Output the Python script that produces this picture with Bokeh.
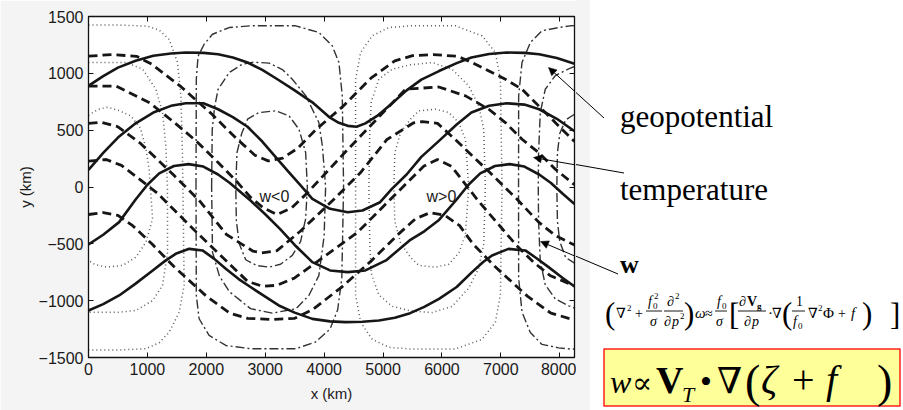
from bokeh.plotting import figure
from bokeh.layouts import row
from bokeh.models import (Range1d, LinearAxis, Label, Arrow, NormalHead, FixedTicker,
                          CustomJSTickFormatter, Div)
from bokeh.embed import file_html
from bokeh.resources import INLINE

# ---------------- data (km) ----------------
x_ticks = [0, 1000, 2000, 3000, 4000, 5000, 6000, 7000, 8000]
y_ticks = [-1500, -1000, -500, 0, 500, 1000, 1500]

# geopotential contours (solid)
G1_x = [0, 250, 500, 800, 1100, 1400, 1650, 1950, 2200, 2450, 2700, 2950, 3200, 3500, 3800, 4100, 4250, 4400, 4550, 4700, 4900, 5150, 5400, 5650, 5950, 6250, 6500, 6800, 7100, 7400, 7650, 7950, 8250]
G1_y = [890, 975, 1050, 1110, 1155, 1175, 1183, 1180, 1168, 1140, 1095, 1030, 950, 850, 745, 610, 565, 538, 530, 560, 625, 735, 850, 945, 1020, 1090, 1140, 1170, 1183, 1180, 1168, 1135, 1085]
G2_x = [0, 250, 500, 800, 1100, 1400, 1650, 1950, 2200, 2450, 2700, 2950, 3200, 3400, 3600, 3800, 4100, 4400, 4650, 4950, 5150, 5400, 5650, 5950, 6250, 6500, 6800, 7100, 7400, 7650, 7950, 8250]
G2_y = [150, 300, 435, 560, 655, 714, 737, 737, 684, 615, 530, 400, 250, 130, 15, -104, -192, -222, -207, -134, -16, 110, 265, 406, 550, 655, 715, 737, 725, 684, 600, 490]
G3_x = [0, 250, 520, 800, 1000, 1200, 1450, 1700, 1950, 2200, 2400, 2750, 3000, 3250, 3500, 3800, 4100, 4400, 4700, 5050, 5450, 5700, 5950, 6250, 6450, 6650, 6900, 7150, 7400, 7650, 7850, 8050, 8250]
G3_y = [-505, -420, -309, -110, 20, 120, 185, 201, 180, 110, 35, -119, -240, -368, -510, -661, -734, -749, -734, -646, -470, -390, -290, -110, 20, 120, 185, 201, 180, 110, 35, -60, -150]
G4_x = [0, 250, 520, 800, 1090, 1300, 1480, 1710, 1935, 2130, 2330, 2550, 2750, 3000, 3230, 3500, 3800, 4100, 4360, 4650, 4930, 5200, 5460, 5700, 5950, 6250, 6510, 6700, 6850, 7130, 7415, 7600, 7810, 8050, 8250]
G4_y = [-1086, -1030, -954, -850, -734, -650, -588, -544, -558, -630, -720, -810, -880, -965, -1042, -1105, -1160, -1182, -1189, -1185, -1174, -1150, -1110, -1055, -984, -880, -749, -660, -602, -544, -558, -625, -705, -800, -875]

# thickness (temperature) contours (dashed)
T1_x = [0, 400, 815, 1075, 1575, 2075, 2525, 2825, 3050, 3300, 3550, 3850, 4300, 4800, 5200, 5500, 5850, 6265, 6511, 7076, 7359, 7754, 8037, 8250]
T1_y = [1151, 1165, 1150, 1080, 880, 650, 420, 280, 230, 255, 340, 500, 700, 960, 1110, 1155, 1165, 1150, 1095, 948, 860, 655, 508, 400]
T2_x = [0, 475, 1041, 1450, 1833, 2200, 2512, 2750, 2965, 3200, 3450, 3700, 3950, 4400, 4900, 5381, 5946, 6400, 6795, 7076, 7359, 7641, 7924, 8250]
T2_y = [887, 887, 740, 570, 403, 215, 51, -90, -183, -242, -183, -60, 80, 330, 600, 860, 880, 802, 684, 567, 420, 303, 157, 20]
T3_x = [0, 215, 500, 871, 1437, 1890, 2342, 2795, 2940, 3200, 3596, 4162, 4615, 5067, 5520, 5665, 5925, 6221, 6787, 7268, 7641, 7924, 8250]
T3_y = [560, 570, 530, 389, 110, -125, -418, -565, -579, -560, -389, -110, 125, 418, 565, 575, 560, 420, 140, -104, -309, -427, -510]
T4_x = [0, 300, 560, 1163, 1842, 2400, 2700, 2950, 3200, 3500, 3766, 4558, 5237, 5690, 5925, 6160, 6613, 7268, 7552, 7833, 8250]
T4_y = [227, 242, 190, -51, -403, -680, -830, -873, -865, -800, -700, -403, -51, 183, 242, 183, -120, -515, -661, -778, -870]
T5_x = [0, 250, 500, 750, 1075, 1450, 2000, 2400, 2700, 3100, 3500, 3800, 4300, 4800, 5250, 5550, 5800, 6050, 6300, 6525, 6900, 7450, 7850, 8150, 8250]
T5_y = [-242, -225, -250, -340, -500, -700, -960, -1110, -1155, -1166, -1155, -1080, -880, -650, -420, -280, -225, -250, -340, -500, -700, -960, -1110, -1155, -1160]

# vertical velocity, w > 0 (dotted)
WP1a_x = [0, 500, 1000, 1200, 1370, 1511, 1568, 1595, 1610, 1624, 1540, 1370, 1200, 975, 500, 0]
WP1a_y = [1425, 1425, 1415, 1380, 1299, 1095, 802, 300, -300, -866, -1101, -1277, -1370, -1423, -1435, -1435]
WP2a_x = [0, 640, 920, 1144, 1257, 1313, 1340, 1342, 1257, 1088, 805, 522, 0]
WP2a_y = [1095, 1095, 1036, 860, 655, 362, 0, -573, -866, -1000, -1086, -1101, -1101]
WP3a_x = [0, 150, 320, 520, 720, 880, 975, 1030, 1050, 1088, 975, 805, 580, 300, 100, 0]
WP3a_y = [630, 680, 702, 672, 625, 520, 340, 150, 0, -280, -485, -617, -690, -705, -680, -646]
WP1b_x = [4534, 4534, 4619, 4817, 5099, 5466, 6229, 6681, 6907, 6992, 7020, 6992, 6907, 6681, 6229, 5466, 5099, 4817, 4619, 4534, 4534]
WP1b_y = [0, 948, 1183, 1330, 1403, 1418, 1418, 1330, 1183, 948, 0, -948, -1190, -1340, -1425, -1425, -1410, -1340, -1190, -948, 0]
WP2b_x = [4760, 4775, 4800, 4929, 5155, 5466, 5833, 6172, 6454, 6624, 6709, 6737, 6710, 6624, 6454, 6172, 5833, 5466, 5155, 4929, 4800, 4775, 4760]
WP2b_y = [0, 500, 750, 948, 1036, 1075, 1095, 1036, 890, 714, 508, 0, -500, -714, -890, -1050, -1105, -1090, -1050, -950, -760, -500, 0]
WP3b_x = [5183, 5200, 5297, 5466, 5607, 5890, 6115, 6285, 6398, 6454, 6398, 6285, 6115, 5890, 5607, 5466, 5297, 5200, 5183]
WP3b_y = [0, 300, 479, 597, 670, 684, 655, 567, 421, 0, -421, -580, -680, -705, -690, -620, -490, -300, 0]

# vertical velocity, w < 0 (dash-dot)
WN1a_x = [1825, 1830, 1860, 1963, 2105, 2387, 2754, 3517, 3912, 4138, 4251, 4308, 4330, 4300, 4230, 4100, 3850, 3517, 2754, 2331, 2047, 1878, 1830, 1825]
WN1a_y = [0, 948, 1150, 1256, 1344, 1403, 1418, 1418, 1359, 1242, 1095, 802, 0, -802, -1080, -1250, -1365, -1423, -1423, -1394, -1306, -1159, -954, 0]
WN2a_x = [2090, 2100, 2140, 2200, 2390, 2610, 2800, 3065, 3300, 3460, 3690, 3910, 3970, 4025, 4000, 3910, 3740, 3520, 3120, 2750, 2390, 2220, 2105, 2090]
WN2a_y = [0, 500, 700, 860, 1007, 1080, 1098, 1090, 1030, 948, 802, 567, 362, 0, -430, -780, -955, -1071, -1110, -1070, -920, -780, -573, 0]
WN3a_x = [2500, 2520, 2600, 2700, 2895, 3178, 3404, 3573, 3686, 3715, 3686, 3600, 3460, 3260, 3065, 2850, 2669, 2560, 2510, 2500]
WN3a_y = [0, 300, 470, 597, 655, 670, 626, 508, 303, 0, -280, -480, -602, -680, -705, -690, -640, -500, -300, 0]
WN1b_x = [8250, 8178, 7980, 7698, 7500, 7359, 7302, 7300, 7302, 7359, 7500, 7698, 7980, 8178, 8250]
WN1b_y = [1420, 1418, 1403, 1374, 1271, 1095, 802, 0, -802, -1100, -1280, -1385, -1415, -1425, -1425]
WN2b_x = [8250, 8150, 7924, 7754, 7669, 7640, 7635, 7640, 7669, 7754, 7924, 8150, 8250]
WN2b_y = [1060, 1040, 980, 860, 655, 300, 0, -300, -655, -860, -985, -1045, -1065]
WN3b_x = [8250, 8100, 8000, 7960, 7950, 7960, 8000, 8100, 8250]
WN3b_y = [640, 590, 470, 300, 0, -300, -480, -620, -670]

# ---------------- layout constants (page pixels; page has no margin) ----------------
H = 410
LW = 576                           # chart figure width
RW = 903 - LW                      # annotation panel width
FL, FR, FT, FB = 88, 574, 16, 357  # chart frame edges
XMAX = 8250
SANS = "Liberation Sans, Arial, Helvetica, sans-serif"
SERIF_CSS = "'Liberation Serif','Times New Roman','DejaVu Serif',serif"
INK = "#161616"

# ---------------- chart figure ----------------
p = figure(width=LW, height=H, output_backend="svg", toolbar_location=None,
           x_range=Range1d(0, XMAX), y_range=Range1d(-1500, 1500),
           min_border_left=FL, min_border_right=LW - FR,
           min_border_top=FT, min_border_bottom=H - FB)
p.background_fill_color = "white"
p.border_fill_color = "#f4f4f4"
p.outline_line_color = "#111111"
p.outline_line_width = 1.3
p.grid.visible = False

def style_axis(ax):
    ax.axis_line_color = "#111111"
    ax.major_tick_in = 5
    ax.major_tick_out = 0
    ax.minor_tick_line_color = None
    ax.major_tick_line_color = "#111111"
    ax.major_label_text_font = SANS
    ax.major_label_text_font_size = "16px"
    ax.major_label_text_color = "#1a1a1a"
    ax.axis_label_text_font = SANS
    ax.axis_label_text_font_size = "15px"
    ax.axis_label_text_font_style = "normal"
    ax.axis_label_text_color = "#1a1a1a"

p.xaxis.ticker = FixedTicker(ticks=x_ticks)
p.yaxis.ticker = FixedTicker(ticks=y_ticks)
p.xaxis.axis_label = "x (km)"
p.yaxis.axis_label = "y (km)"
style_axis(p.xaxis[0]); style_axis(p.yaxis[0])
p.xaxis.major_label_standoff = 5
p.yaxis.major_label_standoff = 5
p.xaxis.axis_label_standoff = 7
p.yaxis.axis_label_standoff = 2

blank = CustomJSTickFormatter(code="return ''")
top_ax = LinearAxis(ticker=FixedTicker(ticks=x_ticks), formatter=blank)
right_ax = LinearAxis(ticker=FixedTicker(ticks=y_ticks), formatter=blank)
for ax in (top_ax, right_ax):
    style_axis(ax)
    ax.major_label_standoff = 0
p.add_layout(top_ax, "above")
p.add_layout(right_ax, "right")

for xs, ys in [(WP1a_x, WP1a_y), (WP2a_x, WP2a_y), (WP3a_x, WP3a_y),
               (WP1b_x, WP1b_y), (WP2b_x, WP2b_y), (WP3b_x, WP3b_y)]:
    p.line(xs, ys, line_color="#5a5a5a", line_width=1.5, line_dash="1 3")
for xs, ys in [(WN1a_x, WN1a_y), (WN2a_x, WN2a_y), (WN3a_x, WN3a_y),
               (WN1b_x, WN1b_y), (WN2b_x, WN2b_y), (WN3b_x, WN3b_y)]:
    p.line(xs, ys, line_color="#333333", line_width=1.4, line_dash="9 3 2 3")
for xs, ys in [(T1_x, T1_y), (T2_x, T2_y), (T3_x, T3_y), (T4_x, T4_y), (T5_x, T5_y)]:
    p.line(xs, ys, line_color=INK, line_width=2.8, line_dash="9 5")
for xs, ys in [(G1_x, G1_y), (G2_x, G2_y), (G3_x, G3_y), (G4_x, G4_y)]:
    p.line(xs, ys, line_color=INK, line_width=2.6, line_join="round")

def X(px):   # page pixel -> chart data x
    return (px - FL) * XMAX / (FR - FL)

def Y(py):   # page pixel -> chart data y
    return 1500 - (py - FT) * 3000 / (FB - FT)

for txt, px in (("w<0", 259), ("w>0", 426)):
    p.add_layout(Label(x=X(px), y=Y(196), text=txt, text_font=SANS, text_font_size="16px",
                       text_baseline="alphabetic", text_color="#1a1a1a"))

ARROWS = [(604, 118, 548, 67), (624, 173, 533, 157), (618, 274, 540, 241)]
for (a, b, c, d) in ARROWS:
    p.add_layout(Arrow(end=NormalHead(size=8, fill_color="black", line_color="black", line_width=0.5),
                       x_start=X(a), y_start=Y(b), x_end=X(c), y_end=Y(d),
                       line_width=1, line_color="black"))

# ---------------- annotation panel: inline SVG with real text ----------------
OX = LW   # page x of the panel's left edge
parts = []

def t(s, px, py, size, style="normal", weight="normal"):
    css = (f"font-family:{SERIF_CSS};font-size:{size}px;font-style:{style};"
           f"font-weight:{weight};fill:black")
    parts.append(f'<text x="{px - OX:.1f}" y="{py:.1f}" style="{css}">{s}</text>')

def ln(px0, py0, px1, py1, w=1.0):
    parts.append(f'<line x1="{px0 - OX:.1f}" y1="{py0:.1f}" x2="{px1 - OX:.1f}" y2="{py1:.1f}" '
                 f'style="stroke:black;stroke-width:{w}"/>')

# scanned-page strip continuing left of the panel
parts.append(f'<rect x="0" y="0" width="{590 - OX}" height="{H}" style="fill:#f4f4f4"/>')
for (a, b, c, d) in ARROWS:
    ln(a, b, c, d)

t("geopotential", 620, 127, 31)
t("temperature", 620, 200, 31)
t("w", 620, 273, 26, weight="bold")

# quasi-geostrophic omega equation
t("(", 605, 324, 31)
t("\u2207", 616, 318, 14); t("2", 627, 311, 9)
t("+", 635, 318, 14)
t("f", 648, 306, 14, style="italic"); t("0", 653, 309, 9); t("2", 654, 299, 9)
ln(646, 311, 662, 311, 0.9)
t("\u03c3", 650, 326, 14, style="italic")
t("\u2202", 667, 306, 14); t("2", 675, 299, 9)
ln(664, 311, 683, 311, 0.9)
t("\u2202", 664, 326, 14); t("p", 672, 326, 14, style="italic"); t("2", 680, 319, 9)
t(")", 684, 324, 31)
t("\u03c9", 695, 318, 15, style="italic")
t("\u2248", 705, 318, 14)
t("f", 717, 306, 14, style="italic"); t("0", 722, 309, 9)
ln(715, 311, 727, 311, 0.9)
t("\u03c3", 716, 326, 14, style="italic")
t("[", 729, 325, 31)
t("\u2202", 739, 306, 14); t("V", 747, 306, 14, weight="bold"); t("g", 757, 309, 9, weight="bold")
ln(738, 311, 766, 311, 0.9)
t("\u2202", 744, 326, 14); t("p", 752, 326, 14, style="italic")
t("\u00b7", 768, 318, 15)
t("\u2207", 772, 318, 14)
t("(", 782, 324, 31)
t("1", 796, 306, 14)
ln(792, 311, 805, 311, 0.9)
t("f", 793, 326, 14, style="italic"); t("0", 798, 329, 9)
t("\u2207", 808, 318, 14); t("2", 818, 311, 9); t("\u03a6", 823, 318, 15)
t("+", 838, 318, 14)
t("f", 851, 318, 15, style="italic")
t(")", 862, 324, 31)
t("]", 890, 325, 31)

# highlighted proportionality
parts.append(f'<rect x="{604 - OX}" y="349" width="296" height="57" '
             f'style="fill:#ffff99;stroke:#ff0000;stroke-width:1.3"/>')
t("w", 610, 393, 32, style="italic")
t("\u221d", 632, 393, 30)
t("V", 656, 393, 38, weight="bold")
t("T", 682, 402, 22, style="italic")
t("\u2022", 700, 393, 34)
t("\u2207", 717, 393, 36)
t("(", 745, 397, 46)
t("\u03b6", 761, 393, 40, style="italic")
t("+", 792, 393, 40)
t("f", 826, 393, 40, style="italic")
t(")", 877, 397, 46)

svg = (f'<svg xmlns="http://www.w3.org/2000/svg" width="{RW}" height="{H}" '
       f'style="display:block;background:white">' + "".join(parts) + '</svg>')
panel = Div(text=svg, width=RW, height=H, margin=0)

layout = row(p, panel, spacing=0)
open("out.html", "w").write(file_html(layout, INLINE))
